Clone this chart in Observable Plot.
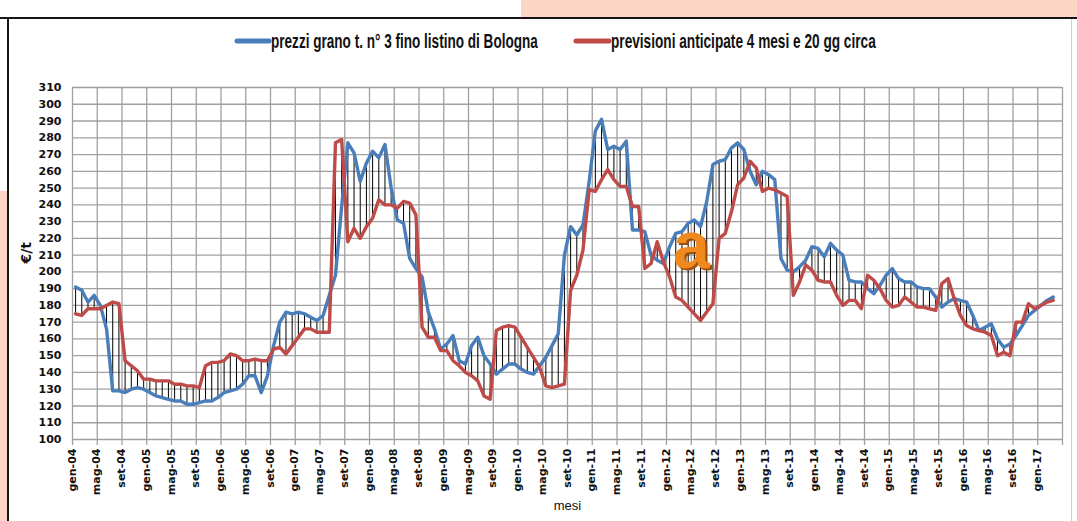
<!DOCTYPE html>
<html>
<head>
<meta charset="utf-8">
<script src="https://cdn.jsdelivr.net/npm/d3@7"></script>
<script src="https://cdn.jsdelivr.net/npm/@observablehq/plot@0.6"></script>
<style>
  body { margin: 0; background: #fff; }
  #wrap { position: relative; width: 1077px; height: 521px; overflow: hidden; background: #fff; }
  .deco { position: absolute; }
  #legend { position: relative; height: 60px; }
  #chart { position: relative; }
</style>
</head>
<body>
<div id="wrap">
  <div class="deco" style="left:521px;top:0;width:556px;height:17px;background:#fbd6c4"></div>
  <div class="deco" style="left:0;top:191px;width:7px;height:330px;background:#fbd6c4"></div>
  <div class="deco" style="left:0;top:17px;width:1077px;height:2px;background:#151515"></div>
  <div class="deco" style="left:7px;top:17px;width:2px;height:504px;background:#151515"></div>
  <div class="deco" style="left:1071px;top:19px;width:1px;height:502px;background:#cfcfcf"></div>
  <div id="legend"></div>
  <div id="chart"></div>
</div>
<script>
// ---- categories (months) ----
const monthNames = ["gen","feb","mar","apr","mag","giu","lug","ago","set","ott","nov","dic"];
const categories = [];
for (let y = 4; y <= 17; y++) for (const m of monthNames) categories.push(m + "-" + String(y).padStart(2, "0"));
const nCategories = 160; // gen-04 ... apr-17 on the axis

// ---- tick labels ----
const xTickLabels = ["gen-04","mag-04","set-04","gen-05","mag-05","set-05","gen-06","mag-06","set-06",
  "gen-07","mag-07","set-07","gen-08","mag-08","set-08","gen-09","mag-09","set-09","gen-10","mag-10",
  "set-10","gen-11","mag-11","set-11","gen-12","mag-12","set-12","gen-13","mag-13","set-13","gen-14",
  "mag-14","set-14","gen-15","mag-15","set-15","gen-16","mag-16","set-16","gen-17"];
const yTicks = [100,110,120,130,140,150,160,170,180,190,200,210,220,230,240,250,260,270,280,290,300,310];

// ---- series ----
const seriesNames = ["prezzi grano t. n° 3 fino listino di Bologna", "previsioni anticipate 4 mesi e 20 gg circa"];
const prezzi = [
  191,189,182,186,180,166,129,129,128,130,131,130,
  128,126,125,124,123,123,121,121,122,123,123,125,
  128,129,130,133,138,138,128,138,156,170,176,175,
  176,175,173,171,174,186,198,239,277,271,254,265,
  272,268,276,250,231,229,208,202,197,176,166,154,
  157,162,147,145,156,161,150,145,139,142,145,145,
  142,140,139,144,149,156,163,210,227,222,228,254,
  284,291,273,275,273,278,225,225,224,210,207,205,
  215,223,224,229,231,227,242,264,266,267,274,277,
  273,260,252,260,258,255,208,201,200,203,207,215,
  214,209,217,213,210,195,194,194,190,187,192,198,
  202,196,194,194,191,190,190,185,179,182,184,183,
  182,174,165,167,169,160,155,157,162,168,174,177,
  180,183,185
];
const previsioni = [
  175,174,178,178,178,180,182,181,147,144,141,136,
  136,135,135,135,133,133,132,132,131,144,146,146,
  147,151,150,147,147,148,147,147,154,155,151,156,
  161,166,166,164,164,164,277,279,218,226,220,227,
  232,243,240,240,238,242,241,234,167,161,161,153,
  153,147,144,140,138,135,126,124,165,167,168,167,
  161,155,149,143,132,131,132,133,189,198,213,249,
  248,255,261,255,251,251,239,239,202,205,218,206,
  197,185,183,179,175,171,176,181,220,223,236,252,
  256,266,262,248,250,249,247,245,186,194,204,201,
  195,194,194,186,180,183,183,178,198,195,190,183,
  179,180,185,182,179,179,178,177,193,196,184,174,
  168,166,165,164,162,150,152,150,170,170,181,178,
  180,182,183
];
const annotations = [{mese: "apr-12", offset: 0.5, v: 215, label: "a"}];

const colors = ["#4a7ebb", "#be4b48"];

// ---- tables ----
const rows = prezzi.map((p, i) => ({i, mese: categories[i], prezzi: p, previsioni: previsioni[i]}));
const tickRows = xTickLabels.map(label => ({label, i: categories.indexOf(label)}));
const gridX = d3.range(0, nCategories + 1, 4).map(k => k - 0.5);
const annRows = annotations.map(a => ({...a, i: categories.indexOf(a.mese) + a.offset}));

// ---- legend (condensed bold text, horizontally scaled to fit) ----
const leg = d3.select("#legend").append("svg").attr("width", 1077).attr("height", 60);
const legendItems = [
  {x0: 237, x1: 269, tx: 271, tl: 267},
  {x0: 576, x1: 609, tx: 611, tl: 265}
];
legendItems.forEach((it, k) => {
  leg.append("line").attr("x1", it.x0).attr("x2", it.x1).attr("y1", 41).attr("y2", 41)
    .attr("stroke", colors[k]).attr("stroke-width", 5).attr("stroke-linecap", "round");
  const t = leg.append("text").attr("x", 0).attr("y", 0)
    .attr("font-family", "Liberation Sans, Arial, sans-serif").attr("font-weight", "bold")
    .attr("font-size", 20).attr("fill", "#111")
    .text(seriesNames[k]);
  const w = t.node().getComputedTextLength() || 430;
  t.attr("transform", `translate(${it.tx},48) scale(${it.tl / w},1)`);
});

// ---- chart ----
const gridColor = "#a0a0a0";
const chart = Plot.plot({
  width: 1077,
  height: 461,
  marginLeft: 72,
  marginRight: 15,
  marginTop: 27,
  marginBottom: 82,
  style: {background: "transparent", overflow: "visible", fontFamily: "DejaVu Sans, sans-serif"},
  x: {type: "linear", domain: [-0.5, nCategories - 0.5]},
  y: {domain: [100, 310]},
  marks: [
    Plot.ruleY(yTicks, {stroke: gridColor, strokeWidth: 1.3}),
    Plot.ruleX(gridX, {y1: 100, y2: 310, stroke: gridColor, strokeWidth: 1.3}),
    Plot.axisX(gridX, {tickSize: 6, tickFormat: () => "", stroke: gridColor, strokeWidth: 1.3, label: null}),
    Plot.axisY(yTicks, {tickSize: 0, tickPadding: 11, fontSize: 11, fontWeight: "bold", fill: "#111", label: null}),
    Plot.text(tickRows, {x: "i", text: "label", frameAnchor: "bottom", rotate: -90, textAnchor: "end",
      dy: 9, fontSize: 11, fontWeight: "bold", fill: "#111"}),
    Plot.text(["€/t"], {text: d => d, frameAnchor: "left", dx: -46, rotate: -90, fontSize: 14, fontWeight: "bold", fill: "#111"}),
    Plot.text(["mesi"], {text: d => d, frameAnchor: "bottom", dy: 70, fontSize: 13, fontFamily: "Liberation Sans, Arial, sans-serif", fill: "#111"}),
    Plot.ruleX(rows, {x: "i", y1: "prezzi", y2: "previsioni", stroke: "#000", strokeWidth: 1}),
    Plot.line(rows, {x: "i", y: "prezzi", stroke: colors[0], strokeWidth: 3.4}),
    Plot.line(rows, {x: "i", y: "previsioni", stroke: colors[1], strokeWidth: 3.4}),
    Plot.text(annRows, {x: "i", y: "v", text: "label", dx: 2, dy: 2, fontSize: 66, fontWeight: "bold",
      fontFamily: "Liberation Sans, Arial, sans-serif", fill: "#9a520e", textAnchor: "middle"}),
    Plot.text(annRows, {x: "i", y: "v", text: "label", fontSize: 66, fontWeight: "bold",
      fontFamily: "Liberation Sans, Arial, sans-serif", fill: "#f08a1e", textAnchor: "middle"})
  ]
});
document.getElementById("chart").appendChild(chart);
</script>
</body>
</html>
